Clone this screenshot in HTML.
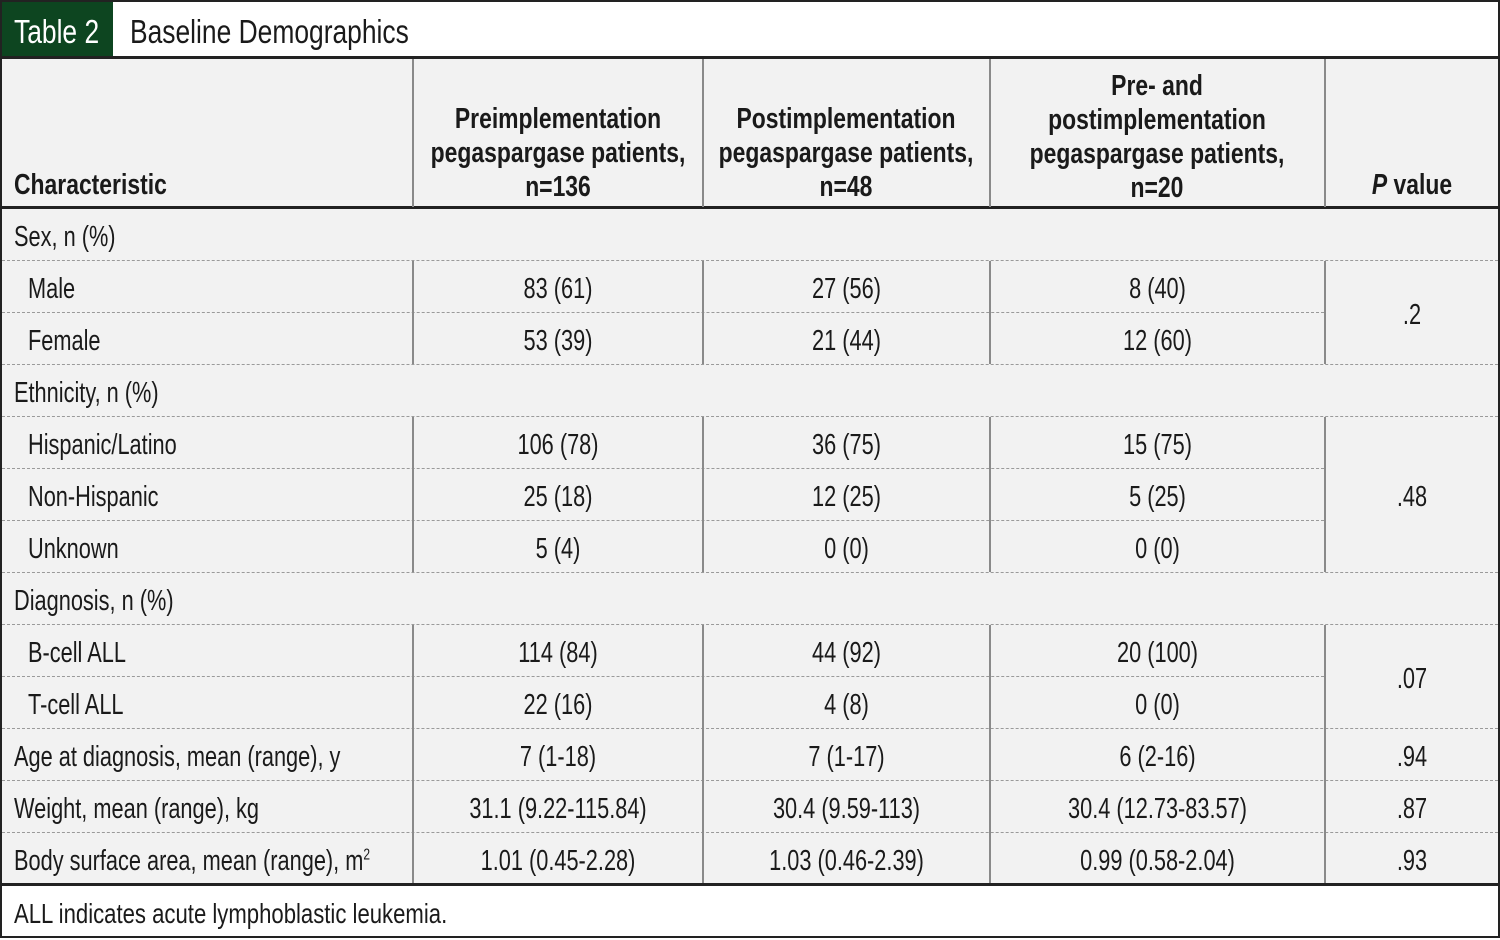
<!DOCTYPE html>
<html><head><meta charset="utf-8"><style>
*{margin:0;padding:0;box-sizing:border-box}
body{width:1500px;height:938px;background:#fff;position:relative;overflow:hidden;font-family:"Liberation Sans Narrow","Liberation Sans",sans-serif;color:#1a1a1a}
.a{position:absolute}
.t{position:absolute;font-size:29px;line-height:52px;white-space:nowrap;transform:scaleX(.75);transform-origin:0 50%}
.c{text-align:center;transform-origin:50% 50%}
.h{position:absolute;left:2px;width:1496px;border-top:1px dashed #9a9a9a}
.v{position:absolute;width:2px;background:#8a8a8a}
.b{font-weight:bold;white-space:nowrap;transform:scaleX(.79);transform-origin:50% 50%}
</style></head><body>
<div class="a" style="left:0;top:0;width:1500px;height:938px;border:2px solid #222"></div>
<div class="a" style="left:2px;top:2px;width:111px;height:55px;background:#0d4520"></div>
<div class="t" style="left:14px;top:6px;color:#fff;font-size:33px;line-height:52px;transform:scaleX(.8)">Table 2</div>
<div class="t" style="left:130px;top:6px;font-size:33px;line-height:52px;transform:scaleX(.8)">Baseline Demographics</div>
<div class="a" style="left:2px;top:57px;width:1496px;height:828px;background:#f2f2f2"></div>
<div class="a" style="left:0;top:56px;width:1500px;height:3px;background:#222"></div>
<div class="a" style="left:0;top:206px;width:1500px;height:3px;background:#222"></div>
<div class="a" style="left:0;top:883px;width:1500px;height:3px;background:#222"></div>
<div class="v" style="left:412px;top:59px;height:148px"></div>
<div class="v" style="left:702px;top:59px;height:148px"></div>
<div class="v" style="left:989px;top:59px;height:148px"></div>
<div class="v" style="left:1324px;top:59px;height:148px"></div>
<div class="a b" style="left:14px;top:168px;font-size:29px;line-height:34px;transform-origin:0 50%">Characteristic</div>
<div class="a b c" style="left:358px;width:400px;top:102px;font-size:29px;line-height:34px">Preimplementation<br>pegaspargase patients,<br>n=136</div>
<div class="a b c" style="left:646px;width:400px;top:102px;font-size:29px;line-height:34px">Postimplementation<br>pegaspargase patients,<br>n=48</div>
<div class="a b c" style="left:957px;width:400px;top:69px;font-size:29px;line-height:34px">Pre- and<br>postimplementation<br>pegaspargase patients,<br>n=20</div>
<div class="a b c" style="left:1326px;width:172px;top:168px;font-size:29px;line-height:34px"><i>P</i> value</div>
<div class="h" style="top:260px"></div><div class="h" style="top:312px;left:2px;width:1322px"></div>
<div class="h" style="top:364px"></div><div class="h" style="top:416px"></div>
<div class="h" style="top:468px;width:1322px"></div><div class="h" style="top:520px;width:1322px"></div>
<div class="h" style="top:572px"></div><div class="h" style="top:624px"></div>
<div class="h" style="top:676px;width:1322px"></div><div class="h" style="top:728px"></div>
<div class="h" style="top:780px"></div><div class="h" style="top:832px"></div>
<div class="v" style="left:412px;top:261px;height:103px"></div><div class="v" style="left:702px;top:261px;height:103px"></div><div class="v" style="left:989px;top:261px;height:103px"></div><div class="v" style="left:1324px;top:261px;height:103px"></div>
<div class="v" style="left:412px;top:417px;height:155px"></div><div class="v" style="left:702px;top:417px;height:155px"></div><div class="v" style="left:989px;top:417px;height:155px"></div><div class="v" style="left:1324px;top:417px;height:155px"></div>
<div class="v" style="left:412px;top:625px;height:258px"></div><div class="v" style="left:702px;top:625px;height:258px"></div><div class="v" style="left:989px;top:625px;height:258px"></div><div class="v" style="left:1324px;top:625px;height:258px"></div>
<div class="t" style="left:14px;top:211px">Sex, n (%)</div>
<div class="t" style="left:28px;top:263px">Male</div>
<div class="t c" style="left:414px;width:288px;top:263px">83 (61)</div><div class="t c" style="left:704px;width:285px;top:263px">27 (56)</div><div class="t c" style="left:991px;width:333px;top:263px">8 (40)</div>
<div class="t" style="left:28px;top:315px">Female</div>
<div class="t c" style="left:414px;width:288px;top:315px">53 (39)</div><div class="t c" style="left:704px;width:285px;top:315px">21 (44)</div><div class="t c" style="left:991px;width:333px;top:315px">12 (60)</div>
<div class="t c" style="left:1326px;width:172px;top:289px">.2</div>
<div class="t" style="left:14px;top:367px">Ethnicity, n (%)</div>
<div class="t" style="left:28px;top:419px">Hispanic/Latino</div>
<div class="t c" style="left:414px;width:288px;top:419px">106 (78)</div><div class="t c" style="left:704px;width:285px;top:419px">36 (75)</div><div class="t c" style="left:991px;width:333px;top:419px">15 (75)</div>
<div class="t" style="left:28px;top:471px">Non-Hispanic</div>
<div class="t c" style="left:414px;width:288px;top:471px">25 (18)</div><div class="t c" style="left:704px;width:285px;top:471px">12 (25)</div><div class="t c" style="left:991px;width:333px;top:471px">5 (25)</div>
<div class="t" style="left:28px;top:523px">Unknown</div>
<div class="t c" style="left:414px;width:288px;top:523px">5 (4)</div><div class="t c" style="left:704px;width:285px;top:523px">0 (0)</div><div class="t c" style="left:991px;width:333px;top:523px">0 (0)</div>
<div class="t c" style="left:1326px;width:172px;top:471px">.48</div>
<div class="t" style="left:14px;top:575px">Diagnosis, n (%)</div>
<div class="t" style="left:28px;top:627px">B-cell ALL</div>
<div class="t c" style="left:414px;width:288px;top:627px">114 (84)</div><div class="t c" style="left:704px;width:285px;top:627px">44 (92)</div><div class="t c" style="left:991px;width:333px;top:627px">20 (100)</div>
<div class="t" style="left:28px;top:679px">T-cell ALL</div>
<div class="t c" style="left:414px;width:288px;top:679px">22 (16)</div><div class="t c" style="left:704px;width:285px;top:679px">4 (8)</div><div class="t c" style="left:991px;width:333px;top:679px">0 (0)</div>
<div class="t c" style="left:1326px;width:172px;top:653px">.07</div>
<div class="t" style="left:14px;top:731px">Age at diagnosis, mean (range), y</div>
<div class="t c" style="left:414px;width:288px;top:731px">7 (1-18)</div><div class="t c" style="left:704px;width:285px;top:731px">7 (1-17)</div><div class="t c" style="left:991px;width:333px;top:731px">6 (2-16)</div><div class="t c" style="left:1326px;width:172px;top:731px">.94</div>
<div class="t" style="left:14px;top:783px">Weight, mean (range), kg</div>
<div class="t c" style="left:414px;width:288px;top:783px">31.1 (9.22-115.84)</div><div class="t c" style="left:704px;width:285px;top:783px">30.4 (9.59-113)</div><div class="t c" style="left:991px;width:333px;top:783px">30.4 (12.73-83.57)</div><div class="t c" style="left:1326px;width:172px;top:783px">.87</div>
<div class="t" style="left:14px;top:835px">Body surface area, mean (range), m<sup style="font-size:16px;line-height:0">2</sup></div>
<div class="t c" style="left:414px;width:288px;top:835px">1.01 (0.45-2.28)</div><div class="t c" style="left:704px;width:285px;top:835px">1.03 (0.46-2.39)</div><div class="t c" style="left:991px;width:333px;top:835px">0.99 (0.58-2.04)</div><div class="t c" style="left:1326px;width:172px;top:835px">.93</div>
<div class="t" style="left:14px;top:888px;font-size:28px;transform:scaleX(.79)">ALL indicates acute lymphoblastic leukemia.</div>
</body></html>
